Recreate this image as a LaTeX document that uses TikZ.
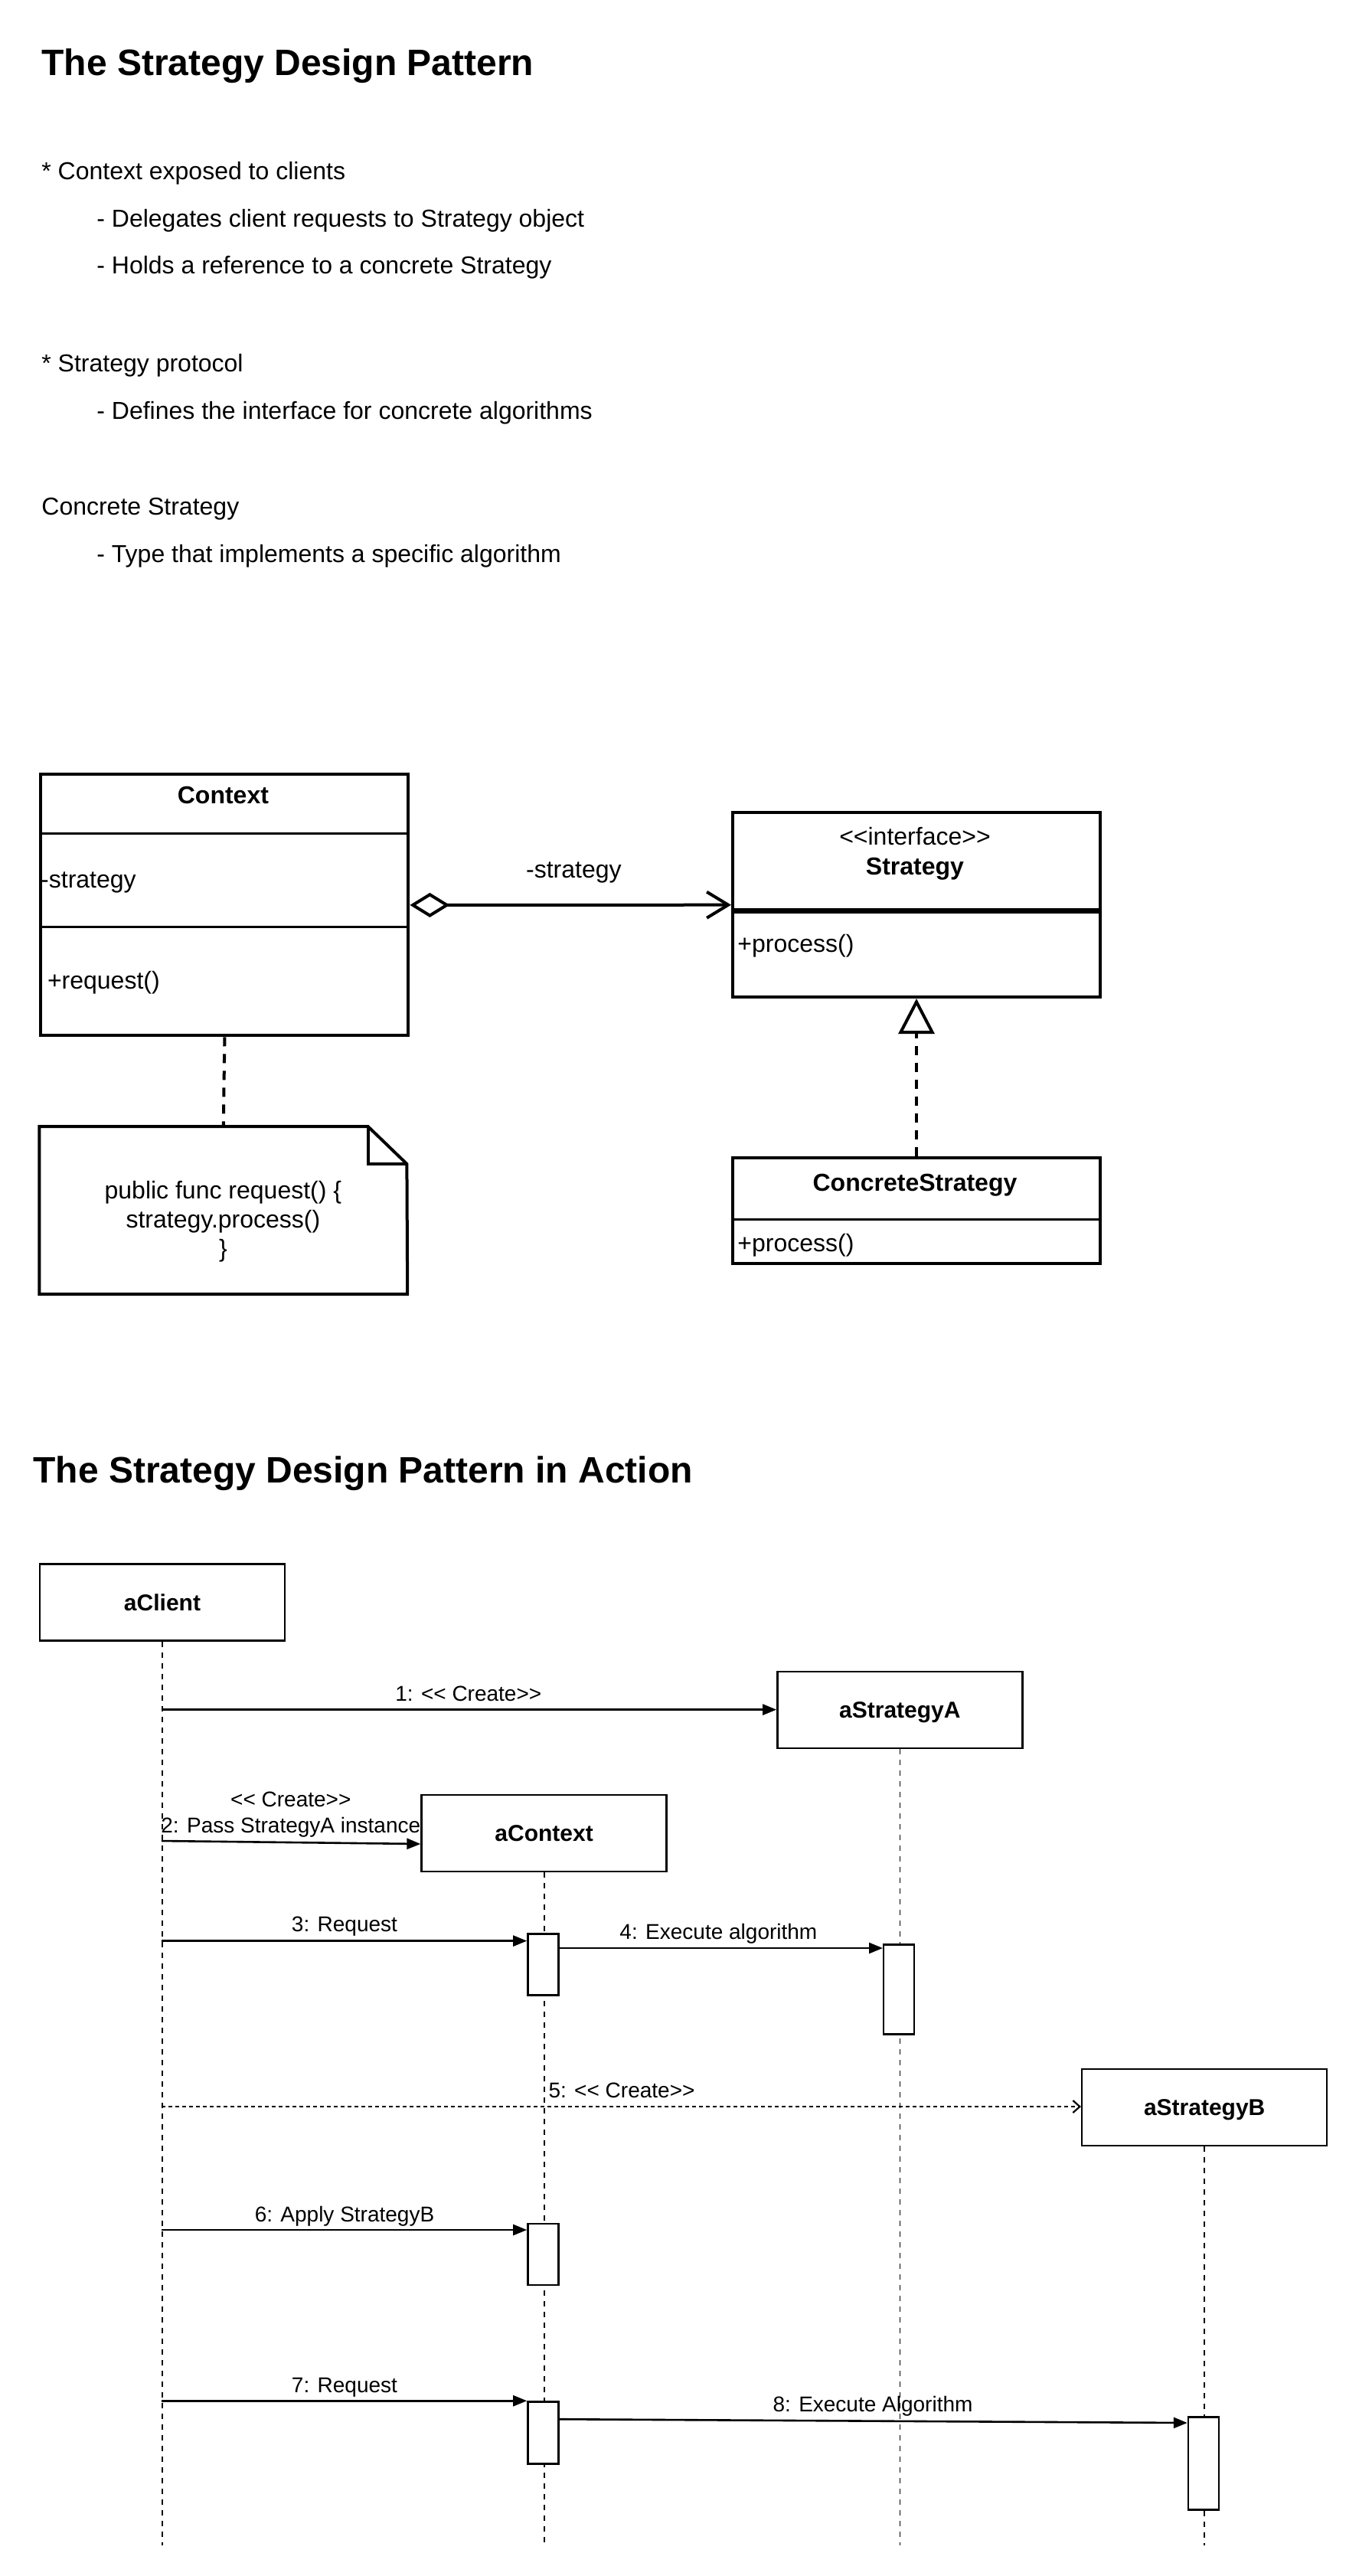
\documentclass[tikz,border=0pt]{standalone}
\usepackage{fontspec}
\setmainfont{Liberation Sans}
\usetikzlibrary{arrows.meta}
\begin{document}
\begin{tikzpicture}[x=1pt,y=-1pt,
  titletext/.style={font=\fontsize{24}{28.8}\selectfont\bfseries, inner sep=0pt, anchor=base west},
  bodytext/.style={font=\fontsize{16}{19.2}\selectfont, inner sep=0pt, anchor=base west},
  ctext/.style={font=\fontsize{16}{19.2}\selectfont, inner sep=0pt, anchor=base},
  btext/.style={font=\fontsize{16}{19.2}\selectfont\bfseries, inner sep=0pt, anchor=base},
  clsbox/.style={draw, line width=2pt, fill=white, inner sep=0pt, anchor=north west},
  clsdiv/.style={line width=1.5pt},
  dlink/.style={line width=2pt, dash pattern=on 6pt off 5pt},
  objbox/.style={draw, line width=1.2pt, fill=white, inner sep=0pt, anchor=north west,
    minimum width=160pt, minimum height=50pt, font=\fontsize{15}{18}\selectfont\bfseries,
    text height=10.7pt, text depth=0pt},
  lifeline/.style={line width=0.9pt, dash pattern=on 3.5pt off 3.5pt},
  actbar/.style={draw, line width=1.2pt, fill=white, inner sep=0pt, anchor=north, minimum width=20pt},
  msg/.style={line width=1.3pt, -{Triangle[length=9pt,width=7pt]}},
  msgdash/.style={line width=1.1pt, dash pattern=on 2.5pt off 2pt, -{Straight Barb[length=4.5pt,width=8pt]}},
  msglabel/.style={font=\fontsize{14}{16.8}\selectfont, inner sep=0pt, anchor=base},
]
\useasboundingbox (0,0) rectangle (887,1682);
\fill[white] (0,0) rectangle (887,1682);

% ---------- header texts ----------
\node[titletext] (t1) at (27,49) {The Strategy Design Pattern};
\node[bodytext] (l1) at (27,117.4) {* Context exposed to clients};
\node[bodytext] (l2) at (63,148.2) {- Delegates client requests to Strategy object};
\node[bodytext] (l3) at (63,178.7) {- Holds a reference to a concrete Strategy};
\node[bodytext] (l4) at (27,242.8) {* Strategy protocol};
\node[bodytext] (l5) at (63,273.8) {- Defines the interface for concrete algorithms};
\node[bodytext] (l6) at (27,336.4) {Concrete Strategy};
\node[bodytext] (l7) at (63,367.2) {- Type that implements a specific algorithm};

% ---------- class diagram ----------
\node[clsbox, minimum width=240pt, minimum height=170.5pt] (ctx) at (25.7,504.7) {};
\draw[clsdiv] (25.7,544) -- (265.7,544);
\draw[clsdiv] (25.7,605) -- (265.7,605);
\node[btext] (ctxname) at (145.7,524.7) {Context};
\node[bodytext] (ctxattr) at (26.4,579.7) {-strategy};
\node[bodytext] (ctxop) at (30.8,645.7) {+request()};

\node[clsbox, minimum width=240pt, minimum height=120.3pt] (strat) at (477.5,529.7) {};
\draw[line width=3.5pt] (477.5,594.7) -- (717.5,594.7);
\node[ctext] (stratst) at (597.5,551.7) {<{}<interface>{}>};
\node[btext] (stratname) at (597.5,571) {Strategy};
\node[bodytext] (stratop) at (481.5,621.5) {+process()};

\node[clsbox, minimum width=240pt, minimum height=69.2pt] (cs) at (477.5,755) {};
\draw[clsdiv] (477.5,796) -- (717.5,796);
\node[btext] (csname) at (597.5,777.5) {ConcreteStrategy};
\node[bodytext] (csop) at (481.5,817) {+process()};

% note
\node[inner sep=0pt, minimum width=240pt, minimum height=109.2pt, anchor=north west] (note) at (25.7,735.5) {};
\draw[line width=2pt, line join=miter] (note.north west) -- (240.3,735.5) -- (265.7,760)
  -- (note.south east) -- (note.south west) -- cycle;
\draw[line width=2pt] (240.3,735.5) -- (240.3,760) -- (265.7,760);
\node[ctext] (n1) at (145.7,782.5) {public func request() \{};
\node[ctext] (n2) at (145.7,801.7) {strategy.process()};
\node[ctext] (n3) at (145.7,820.9) {\}};

% connectors
\draw[line width=2pt, {Diamond[open,length=26pt,width=16pt]}-{Straight Barb[length=14pt,width=17pt]}]
  (ctx.east) -- (strat.west);
\node[ctext] (agglabel) at (374.7,573) {-strategy};
\draw[dlink] (ctx.south) -- (note.north);
\draw[dlink, -{Triangle[open,length=23pt,width=23.4pt]}] (cs.north) -- (strat.south);

% ---------- sequence diagram ----------
\node[titletext] (t2) at (21.5,968) {The Strategy Design Pattern in Action};

\node[objbox] (client) at (25.4,1020.6) {aClient};
\node[objbox] (sa) at (507.1,1091) {aStrategyA};
\node[objbox] (cobj) at (274.7,1171.4) {aContext};
\node[objbox] (sb) at (706,1350.5) {aStrategyB};

\coordinate (endy) at (0,1662);
\draw[lifeline] (client.south) -- (client.south |- endy);
\draw[lifeline] (sa.south) -- (sa.south |- endy);
\draw[lifeline] (cobj.south) -- (cobj.south |- endy);
\draw[lifeline] (sb.south) -- (sb.south |- endy);

\node[actbar, minimum height=40pt] (act1) at (354.7,1262.2) {};
\node[actbar, minimum height=58.5pt] (actA) at (587.1,1269.1) {};
\node[actbar, minimum height=40pt] (act2) at (354.7,1451.3) {};
\node[actbar, minimum height=40.5pt] (act3) at (354.7,1567.6) {};
\node[actbar, minimum height=60.5pt] (actB) at (786,1577.7) {};

% messages
\coordinate (m1) at (105.4,1116.3);
\draw[msg] (m1) -- (m1 -| sa.west);
\node[msglabel] (lab1) at (305.9,1110.8) {1: <{}< Create>{}>};

\coordinate (m2) at (105.4,1202);
\coordinate (m2e) at (274.7,1204);
\draw[msg] (m2) -- (m2e);
\node[msglabel] (lab2a) at (189.9,1179.5) {<{}< Create>{}>};
\node[msglabel] (lab2b) at (189.9,1196.7) {2: Pass StrategyA instance};

\coordinate (m3) at (105.4,1267.3);
\draw[msg] (m3) -- (m3 -| act1.west);
\node[msglabel] (lab3) at (225,1261.3) {3: Request};

\coordinate (m4) at (0,1272);
\draw[msg] (act1.east |- m4) -- (actA.west |- m4);
\node[msglabel] (lab4) at (469.2,1266.4) {4: Execute algorithm};

\coordinate (m5) at (105.4,1375.5);
\draw[msgdash] (m5) -- (m5 -| sb.west);
\node[msglabel] (lab5) at (406,1369.9) {5: <{}< Create>{}>};

\coordinate (m6) at (105.4,1456);
\draw[msg] (m6) -- (m6 -| act2.west);
\node[msglabel] (lab6) at (225,1450.7) {6: Apply StrategyB};

\coordinate (m7) at (105.4,1567.6);
\draw[msg] (m7) -- (m7 -| act3.west);
\node[msglabel] (lab7) at (225,1562) {7: Request};

\coordinate (m8s) at (0,1579.6);
\coordinate (m8e) at (0,1582);
\draw[msg] (act3.east |- m8s) -- (actB.west |- m8e);
\node[msglabel] (lab8) at (570,1574.8) {8: Execute Algorithm};
\end{tikzpicture}
\end{document}
